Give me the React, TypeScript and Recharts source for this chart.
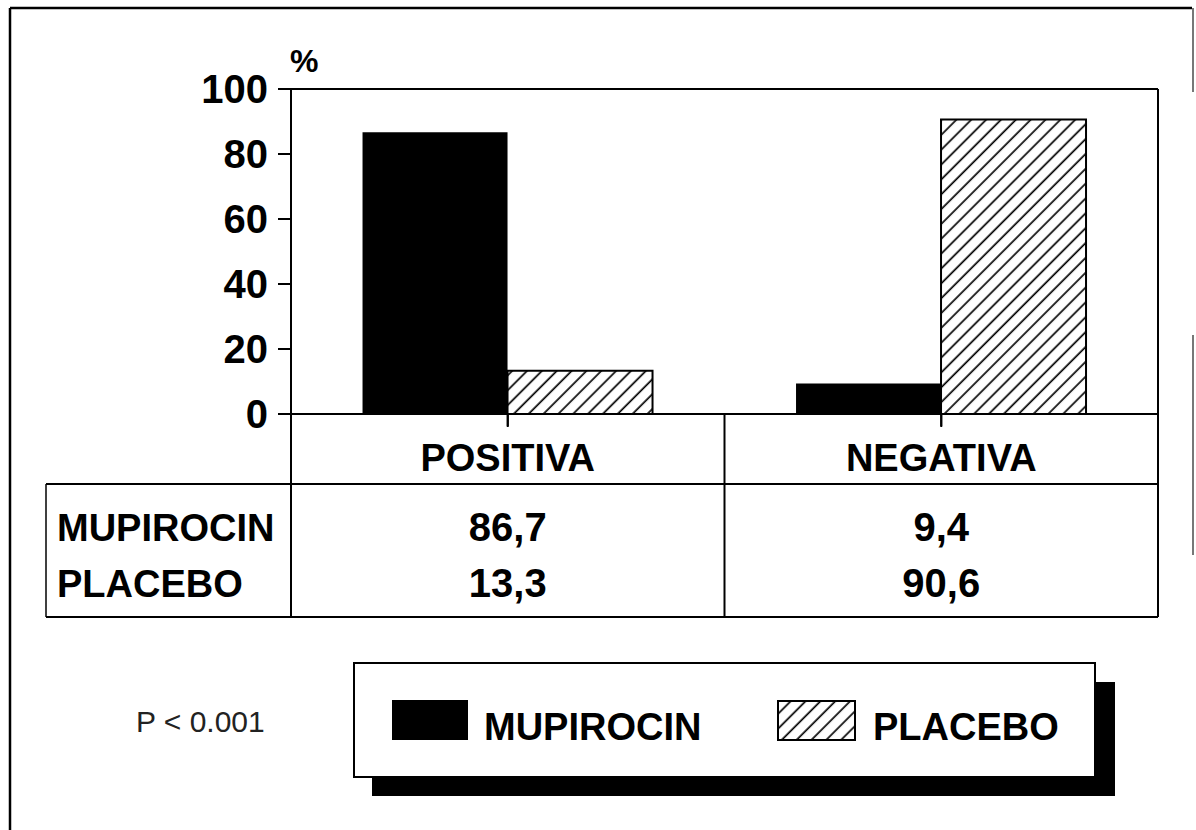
import React from 'react';
import { BarChart, Bar, XAxis, YAxis, Customized } from 'recharts';

// ---- data ----
const categories = ['POSITIVA', 'NEGATIVA'];
const mupirocinValues = [86.7, 9.4];
const placeboValues = [13.3, 90.6];
const seriesNames = ['MUPIROCIN', 'PLACEBO'];
const yTicks = [0, 20, 40, 60, 80, 100];
const yUnit = '%';
const pValueText = 'P < 0.001';

const data = categories.map((c, i) => ({
  category: c,
  mupirocin: mupirocinValues[i],
  placebo: placeboValues[i],
}));

const fmt = (v: number) => v.toFixed(1).replace('.', ',');

// ---- layout ----
const W = 1196;
const H = 830;
const PLOT_LEFT = 291;
const PLOT_RIGHT = 1158;
const PLOT_TOP = 89;
const PLOT_BOTTOM = 414;
const XAXIS_H = 210;
const TABLE_LEFT = 46;
const TABLE_TOP = 484;
const TABLE_BOTTOM = 617;
const CAT_DIVIDER = (PLOT_LEFT + PLOT_RIGHT) / 2;
const ROW1_BASE = 541;
const ROW2_BASE = 597;
const CAT_BASE = 471;
const FONT = "'Liberation Sans', Arial, Helvetica, sans-serif";

const CategoryTick = (props: any) => {
  const { x, payload, index } = props;
  const i = typeof index === 'number' ? index : categories.indexOf(payload.value);
  return (
    <g>
      <line x1={x} y1={PLOT_BOTTOM} x2={x} y2={PLOT_BOTTOM + 13} stroke="#000" strokeWidth={2} />
      <text x={x} y={CAT_BASE} textAnchor="middle" fontSize={38} fontWeight="bold" fill="#000" fontFamily={FONT}>
        {payload.value}
      </text>
      <text x={x} y={ROW1_BASE} textAnchor="middle" fontSize={40} fontWeight="bold" fill="#000" fontFamily={FONT}>
        {fmt(mupirocinValues[i])}
      </text>
      <text x={x} y={ROW2_BASE} textAnchor="middle" fontSize={40} fontWeight="bold" fill="#000" fontFamily={FONT}>
        {fmt(placeboValues[i])}
      </text>
    </g>
  );
};

const Overlay = () => {
  const sw = 2;
  return (
    <g>
      <defs>
        <pattern id="hatch" patternUnits="userSpaceOnUse" width="10.5" height="10.5" patternTransform="rotate(45)">
          <rect x="0" y="0" width="10.5" height="10.5" fill="#fff" />
          <line x1="5" y1="0" x2="5" y2="10.5" stroke="#000" strokeWidth="1.7" />
        </pattern>
      </defs>
      {/* outer frame */}
      <line x1={10} y1={8} x2={1192} y2={8} stroke="#000" strokeWidth={2.5} />
      <line x1={10} y1={8} x2={10} y2={H} stroke="#000" strokeWidth={2.5} />
      <line x1={1193} y1={8} x2={1193} y2={92} stroke="#777" strokeWidth={2} />
      <line x1={1193} y1={335} x2={1193} y2={555} stroke="#777" strokeWidth={2} />
      {/* plot border */}
      <line x1={278} y1={PLOT_TOP} x2={PLOT_RIGHT} y2={PLOT_TOP} stroke="#000" strokeWidth={sw} />
      <line x1={PLOT_RIGHT} y1={PLOT_TOP} x2={PLOT_RIGHT} y2={TABLE_BOTTOM} stroke="#000" strokeWidth={sw} />
      {/* table */}
      <line x1={PLOT_LEFT} y1={PLOT_BOTTOM} x2={PLOT_LEFT} y2={TABLE_BOTTOM} stroke="#000" strokeWidth={sw} />
      <line x1={CAT_DIVIDER} y1={PLOT_BOTTOM} x2={CAT_DIVIDER} y2={TABLE_BOTTOM} stroke="#000" strokeWidth={sw} />
      <line x1={TABLE_LEFT} y1={TABLE_TOP} x2={PLOT_RIGHT} y2={TABLE_TOP} stroke="#000" strokeWidth={sw} />
      <line x1={TABLE_LEFT} y1={TABLE_BOTTOM} x2={PLOT_RIGHT} y2={TABLE_BOTTOM} stroke="#000" strokeWidth={sw} />
      <line x1={TABLE_LEFT} y1={TABLE_TOP} x2={TABLE_LEFT} y2={TABLE_BOTTOM} stroke="#000" strokeWidth={1.5} />
      <text x={57} y={ROW1_BASE} fontSize={38} fontWeight="bold" fill="#000" fontFamily={FONT}>{seriesNames[0]}</text>
      <text x={57} y={ROW2_BASE} fontSize={38} fontWeight="bold" fill="#000" fontFamily={FONT}>{seriesNames[1]}</text>
      {/* unit */}
      <text x={290} y={72} fontSize={32} fontWeight="bold" fill="#000" fontFamily={FONT}>{yUnit}</text>
      {/* p value */}
      <text x={136} y={732} fontSize={30} fill="#222" fontFamily={FONT}>{pValueText}</text>
      {/* legend */}
      <rect x={372} y={682} width={743} height={114} fill="#000" />
      <rect x={354} y={663} width={741} height={114} fill="#fff" stroke="#000" strokeWidth={2} />
      <rect x={392} y={700} width={76} height={40} fill="#000" />
      <text x={484} y={740} fontSize={38} fontWeight="bold" fill="#000" fontFamily={FONT}>{seriesNames[0]}</text>
      <rect x={778} y={701} width={77} height={39} fill="url(#hatch)" stroke="#000" strokeWidth={2} />
      <text x={873} y={740} fontSize={38} fontWeight="bold" fill="#000" fontFamily={FONT}>{seriesNames[1]}</text>
    </g>
  );
};

export default function App() {
  return (
    <div style={{ position: 'absolute', left: 0, top: 0, width: W, height: H, background: '#fff', fontFamily: FONT }}>
      <BarChart
        width={W}
        height={H}
        data={data}
        margin={{ top: PLOT_TOP, right: W - PLOT_RIGHT, left: 0, bottom: H - PLOT_BOTTOM - XAXIS_H }}
        barCategoryGap="16.5%"
        barGap={0}
      >
        <Customized component={Overlay} />
        <XAxis
          dataKey="category"
          height={XAXIS_H}
          tickSize={12}
          axisLine={{ stroke: '#000', strokeWidth: 2 }}
          tickLine={{ stroke: '#000', strokeWidth: 2 }}
          tick={<CategoryTick />}
          interval={0}
        />
        <YAxis
          width={PLOT_LEFT}
          domain={[0, 100]}
          ticks={yTicks}
          interval={0}
          tickSize={13}
          tickMargin={10}
          axisLine={{ stroke: '#000', strokeWidth: 2 }}
          tickLine={{ stroke: '#000', strokeWidth: 2 }}
          tick={{ fontSize: 40, fontWeight: 'bold', fill: '#000', fontFamily: FONT }}
        />
        <Bar dataKey="mupirocin" name={seriesNames[0]} fill="#000" isAnimationActive={false} />
        <Bar dataKey="placebo" name={seriesNames[1]} fill="url(#hatch)" stroke="#000" strokeWidth={2} isAnimationActive={false} />
      </BarChart>
    </div>
  );
}
